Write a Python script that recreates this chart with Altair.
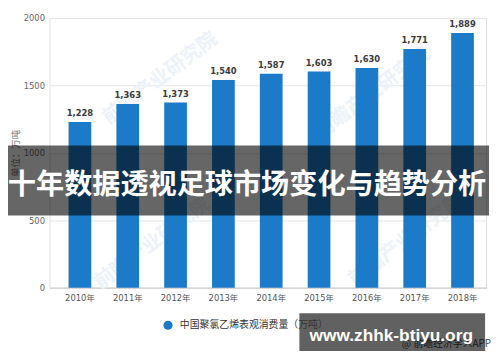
import altair as alt
import pandas as pd

years = ["2010年", "2011年", "2012年", "2013年", "2014年", "2015年", "2016年", "2017年", "2018年"]
values = [1228, 1363, 1373, 1540, 1587, 1603, 1630, 1771, 1889]
series_name = "中国聚氯乙烯表观消费量（万吨）"
y_ticks = [0, 500, 1000, 1500, 2000]
banner_title = "十年数据透视足球市场变化与趋势分析"
site_text = "www.zhhk-btiyu.org"
source_text = "@ 前瞻经济学人APP"
watermark_text = "前瞻产业研究院"
y_title = "单位：万吨"

BLUE = "#1b7bc9"
NUM_FONT = "DejaVu Sans, Noto Sans CJK SC"
CJK_FONT = "Noto Sans CJK SC"

df = pd.DataFrame({"year": years, "value": values, "series": [series_name] * len(years)})
one = alt.Data(values=[{"k": 1}])

x_enc = alt.X(
    "year:N",
    sort=years,
    title=None,
    scale=alt.Scale(paddingInner=0.525, paddingOuter=0.327, align=0.61),
    axis=alt.Axis(labelAngle=0, ticks=False, domainColor="#cccccc", labelColor="#555555",
                  labelFont=NUM_FONT, labelFontSize=8.5, labelPadding=6),
)
y_enc = alt.Y(
    "value:Q",
    title=y_title,
    scale=alt.Scale(domain=[0, 2000], nice=False),
    axis=alt.Axis(values=y_ticks, format="d", domain=False, ticks=False, gridColor="#e6e6e6",
                  labelColor="#666666", labelFont=NUM_FONT, labelFontSize=8.5, labelPadding=5,
                  titleColor="#777777", titleFont=CJK_FONT, titleFontSize=9.5,
                  titleFontWeight="normal", titlePadding=3),
)

# faint background watermarks
wm_x = [112, 327, 104, 361]
wm_y = [61, 76, 228, 225]
wm_layers = []
for wx, wy in zip(wm_x, wm_y):
    wm_layers.append(
        alt.Chart(one).mark_text(text=watermark_text, font=CJK_FONT, fontSize=20, fontWeight="bold",
                                 color="#edf2f8", angle=323, align="center", baseline="middle")
        .encode(x=alt.value(wx), y=alt.value(wy))
    )

bars = alt.Chart(df).mark_bar(color=BLUE).encode(
    x=x_enc,
    y=y_enc,
    color=alt.Color("series:N", scale=alt.Scale(domain=[series_name], range=[BLUE]),
                    legend=alt.Legend(orient="none", legendX=115, legendY=306, title=None,
                                      symbolType="circle", symbolSize=85, symbolStrokeWidth=0,
                                      labelFont=CJK_FONT, labelFontSize=10, labelColor="#333333",
                                      labelOffset=7, padding=0)),
)

labels = alt.Chart(df).mark_text(font="DejaVu Sans", fontSize=8.5, fontWeight="bold",
                                 color="#3a3a3a", baseline="alphabetic", dy=-6).encode(
    x=alt.X("year:N", sort=years),
    y="value:Q",
    text=alt.Text("value:Q", format=","),
)

source = alt.Chart(one).mark_text(text=source_text, font=CJK_FONT, fontSize=10, color="#444444",
                                  align="right", baseline="middle").encode(
    x=alt.value(447), y=alt.value(330))

top_band = alt.Chart(one).mark_rect(color="#000000", opacity=0.6).encode(
    x=alt.value(-42), x2=alt.value(445), y=alt.value(129), y2=alt.value(200))
bottom_band = alt.Chart(one).mark_rect(color="#000000", opacity=0.62).encode(
    x=alt.value(253), x2=alt.value(441), y=alt.value(299), y2=alt.value(337))

top_text = alt.Chart(one).mark_text(text=banner_title, font=CJK_FONT, fontSize=28.5, fontWeight="bold",
                                    color="#ffffff", align="center", baseline="middle").encode(
    x=alt.value(200), y=alt.value(169))
bottom_text = alt.Chart(one).mark_text(text=site_text, font="Liberation Sans", fontSize=17.5,
                                       fontWeight="bold", color="#ffffff", align="center",
                                       baseline="alphabetic").encode(
    x=alt.value(346), y=alt.value(327))

chart = alt.layer(*wm_layers, bars, labels, source, top_band, bottom_band, top_text, bottom_text).properties(
    width=442,
    height=273,
    autosize=alt.AutoSizeParams(type="none"),
    padding={"left": 42, "top": 8, "right": 6, "bottom": 65},
).configure_view(stroke=None).configure(background="#ffffff")

chart.save("out.html", embed_options={"renderer": "svg", "actions": False})
